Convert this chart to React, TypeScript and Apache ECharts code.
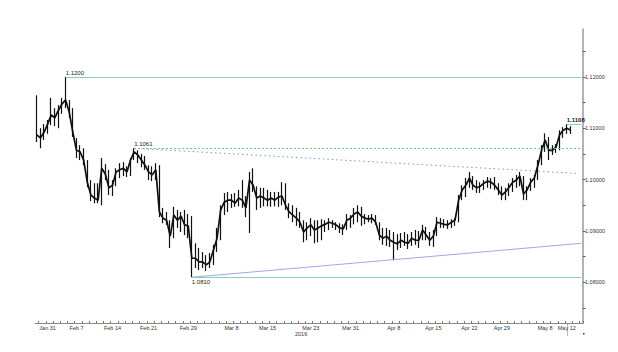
import React, { useEffect, useRef } from 'react';
import * as echarts from 'echarts';

// ~12-hour bars, EUR/USD, 31 Jan – 12 May 2016
const highs = [
  1.1164, 1.1100, 1.1108, 1.1116, 1.1159, 1.1139, 1.1145, 1.1159, 1.1200, 1.1155,
  1.1139, 1.1081, 1.1067, 1.1061, 1.1038, 1.0999, 1.0993, 1.0993, 1.1042, 1.1030,
  1.1019, 1.0999, 1.1022, 1.1032, 1.1034, 1.1026, 1.1042, 1.1061, 1.1057, 1.1050,
  1.1046, 1.1028, 1.1026, 1.1032, 1.1028, 1.0945, 1.0937, 1.0921, 1.0947, 1.0941,
  1.0937, 1.0941, 1.0933, 1.0929, 1.0876, 1.0867, 1.0859, 1.0853, 1.0857, 1.0873,
  1.0906, 1.0950, 1.0974, 1.0976, 1.0972, 1.0974, 1.0980, 1.0999, 1.0968, 1.1015,
  1.1022, 1.0987, 1.0984, 1.0984, 1.0980, 1.0976, 1.0976, 1.0976, 1.0995, 1.0993,
  1.0954, 1.0950, 1.0945, 1.0937, 1.0921, 1.0917, 1.0925, 1.0921, 1.0921, 1.0923,
  1.0921, 1.0925, 1.0921, 1.0917, 1.0915, 1.0913, 1.0933, 1.0931, 1.0945, 1.0950,
  1.0947, 1.0933, 1.0931, 1.0933, 1.0931, 1.0917, 1.0906, 1.0906, 1.0902, 1.0898,
  1.0894, 1.0896, 1.0898, 1.0894, 1.0898, 1.0902, 1.0900, 1.0912, 1.0908, 1.0898,
  1.0902, 1.0927, 1.0925, 1.0923, 1.0921, 1.0923, 1.0925, 1.0970, 1.0989, 1.1003,
  1.1015, 1.1007, 1.0999, 1.0995, 1.0999, 1.1005, 1.1003, 1.1005, 1.0993, 1.0987,
  1.0984, 1.0993, 1.1003, 1.1009, 1.1015, 1.1007, 1.0987, 1.1003, 1.1009, 1.1038,
  1.1067, 1.1090, 1.1083, 1.1067, 1.1069, 1.1096, 1.1102, 1.1108, 1.1104,
];
const lows = [
  1.1073, 1.1061, 1.1077, 1.1089, 1.1106, 1.1104, 1.1100, 1.1128, 1.1139, 1.1120,
  1.1083, 1.1042, 1.1038, 1.1028, 1.0985, 1.0958, 1.0954, 1.0954, 1.0950, 1.0999,
  1.0970, 1.0968, 1.0987, 1.1003, 1.1007, 1.1005, 1.1007, 1.1038, 1.1032, 1.1024,
  1.1019, 1.0999, 1.0997, 1.0999, 1.0927, 1.0915, 1.0912, 1.0867, 1.0886, 1.0906,
  1.0898, 1.0892, 1.0886, 1.0810, 1.0828, 1.0824, 1.0828, 1.0822, 1.0828, 1.0834,
  1.0859, 1.0882, 1.0931, 1.0937, 1.0945, 1.0947, 1.0948, 1.0945, 1.0927, 1.0896,
  1.0976, 1.0941, 1.0945, 1.0948, 1.0948, 1.0947, 1.0948, 1.0947, 1.0950, 1.0941,
  1.0925, 1.0917, 1.0910, 1.0906, 1.0878, 1.0882, 1.0890, 1.0876, 1.0878, 1.0882,
  1.0898, 1.0902, 1.0906, 1.0902, 1.0896, 1.0892, 1.0902, 1.0906, 1.0913, 1.0917,
  1.0910, 1.0913, 1.0917, 1.0915, 1.0912, 1.0882, 1.0873, 1.0871, 1.0869, 1.0843,
  1.0863, 1.0867, 1.0871, 1.0865, 1.0871, 1.0873, 1.0867, 1.0882, 1.0882, 1.0871,
  1.0869, 1.0890, 1.0906, 1.0906, 1.0904, 1.0906, 1.0910, 1.0917, 1.0960, 1.0966,
  1.0984, 1.0980, 1.0974, 1.0974, 1.0980, 1.0984, 1.0982, 1.0980, 1.0970, 1.0960,
  1.0960, 1.0968, 1.0976, 1.0984, 1.0987, 1.0960, 1.0960, 1.0978, 1.0984, 1.0999,
  1.1028, 1.1054, 1.1038, 1.1048, 1.1052, 1.1057, 1.1081, 1.1089, 1.1089,
];
const closes = [
  1.1087, 1.1081, 1.1092, 1.1108, 1.1126, 1.1120, 1.1135, 1.1147, 1.1155, 1.1131,
  1.1092, 1.1057, 1.1054, 1.1038, 1.0995, 1.0970, 1.0964, 1.0960, 1.1022, 1.1011,
  1.0984, 1.0989, 1.1015, 1.1019, 1.1022, 1.1015, 1.1038, 1.1054, 1.1048, 1.1038,
  1.1028, 1.1015, 1.1009, 1.1019, 1.0937, 1.0925, 1.0921, 1.0890, 1.0931, 1.0921,
  1.0929, 1.0912, 1.0910, 1.0847, 1.0847, 1.0840, 1.0840, 1.0834, 1.0840, 1.0863,
  1.0886, 1.0941, 1.0956, 1.0960, 1.0960, 1.0954, 1.0964, 1.0960, 1.0945, 1.0999,
  1.0989, 1.0964, 1.0968, 1.0964, 1.0960, 1.0964, 1.0960, 1.0966, 1.0968, 1.0950,
  1.0937, 1.0931, 1.0925, 1.0917, 1.0898, 1.0906, 1.0912, 1.0902, 1.0906, 1.0910,
  1.0913, 1.0917, 1.0915, 1.0912, 1.0906, 1.0904, 1.0921, 1.0925, 1.0933, 1.0937,
  1.0929, 1.0925, 1.0923, 1.0925, 1.0917, 1.0892, 1.0886, 1.0890, 1.0882, 1.0878,
  1.0875, 1.0882, 1.0878, 1.0876, 1.0886, 1.0882, 1.0882, 1.0902, 1.0892, 1.0882,
  1.0890, 1.0917, 1.0915, 1.0913, 1.0912, 1.0917, 1.0921, 1.0960, 1.0980, 1.0989,
  1.1003, 1.0989, 1.0984, 1.0987, 1.0993, 1.0997, 1.0995, 1.0989, 1.0980, 1.0970,
  1.0976, 1.0985, 1.0995, 1.0999, 1.1007, 1.0972, 1.0980, 1.0995, 1.1003, 1.1028,
  1.1057, 1.1077, 1.1057, 1.1057, 1.1063, 1.1087, 1.1096, 1.1100, 1.10965,
];
const firstOpen = 1.1080;

const totalSlots = 152;
const tickLabels = ['Jan 31', 'Feb 7', 'Feb 14', 'Feb 21', 'Feb 29', 'Mar 8', 'Mar 15', 'Mar 23',
  'Mar 31', 'Apr 8', 'Apr 15', 'Apr 22', 'Apr 29', 'May 8', 'May 12'];
const tickIndex = [3, 11, 21, 31, 42, 54, 64, 76, 87, 99, 110, 120, 129, 141, 147];
const yearLabel = '2016';

const yLabelValues = [1.08, 1.09, 1.10, 1.11, 1.12];
const yTickValues = [1.075, 1.08, 1.085, 1.09, 1.095, 1.10, 1.105, 1.11, 1.115, 1.12, 1.125];
const yMin = 1.0721;
const yMax = 1.1293;

// annotation levels
const highLevel = { idx: 8, value: 1.12, text: '1.1200' };
const lowLevel = { idx: 43, value: 1.081, text: '1.0810' };
const midLevel = { idx: 27, value: 1.1061, text: '1.1061' };
const recentHigh = { idx: 147, value: 1.1108, text: '1.1108' };
const resistanceEnd = 1.1012;
const supportEnd = 1.0876;
const lastPrice = 1.10965;

export default function App() {
  const ref = useRef<HTMLDivElement>(null);
  useEffect(() => {
    if (!ref.current) return;
    const chart = echarts.init(ref.current, undefined, { renderer: 'svg' });
    const cats = Array.from({ length: totalSlots }, (_, i) => String(i));
    const data = closes.map((c, i) => [i === 0 ? firstOpen : closes[i - 1], c, lows[i], highs[i]]);
    const labelMap: Record<number, string> = {};
    tickIndex.forEach((ix, k) => (labelMap[ix] = tickLabels[k]));
    const endIdx = totalSlots - 1;
    const txt = { fontSize: 6, color: '#222', fontFamily: 'Liberation Sans' };
    const green = '#86d2b6';

    chart.setOption({
      animation: false,
      backgroundColor: '#fff',
      grid: { left: 35, right: 35, top: 29, bottom: 29, containLabel: false, outerBoundsMode: 'none' },
      xAxis: {
        type: 'category',
        data: cats,
        boundaryGap: true,
        axisLine: { lineStyle: { color: '#888', width: 1 } },
        axisTick: { show: true, inside: true, length: 2, interval: (i: number) => i % 2 === 1, lineStyle: { color: '#777' } },
        axisLabel: {
          interval: (i: number) => labelMap[i] !== undefined,
          formatter: (_v: string, i: number) => labelMap[i] || '',
          fontSize: 5.5, color: '#333', margin: 2, fontFamily: 'Liberation Sans',
        },
        splitLine: { show: false },
      },
      yAxis: {
        type: 'value',
        position: 'right',
        min: yMin,
        max: yMax,
        splitLine: { show: false },
        axisLine: { show: true, lineStyle: { color: '#9a9a9a', width: 1.5 } },
        axisTick: { show: true, length: 2.5, customValues: yTickValues, lineStyle: { color: '#555' } },
        axisLabel: {
          customValues: yLabelValues,
          formatter: (v: number) => v.toFixed(5),
          fontSize: 5.5, color: '#333', margin: 2, fontFamily: 'Liberation Sans',
        },
      },
      series: [
        {
          type: 'line',
          data: closes,
          symbol: 'none',
          lineStyle: { color: '#111', width: 1.7 },
          z: 3,
        },
        {
          type: 'candlestick',
          data,
          barWidth: 1,
          z: 2,
          itemStyle: { color: '#111', color0: '#111', borderColor: '#111', borderColor0: '#111', borderWidth: 1.2 },
          markLine: {
            symbol: ['none', 'none'],
            silent: true,
            animation: false,
            data: [
              [
                { coord: [highLevel.idx, highLevel.value], lineStyle: { color: green, type: 'solid', width: 1 },
                  label: { show: true, position: 'insideStartTop', formatter: highLevel.text, distance: [0, 1], ...txt } },
                { coord: [endIdx, highLevel.value] },
              ],
              [
                { coord: [lowLevel.idx, lowLevel.value], lineStyle: { color: green, type: 'solid', width: 1 },
                  label: { show: true, position: 'insideStartBottom', formatter: lowLevel.text, distance: [0, 2], ...txt } },
                { coord: [endIdx, lowLevel.value] },
              ],
              [
                { coord: [midLevel.idx, midLevel.value], lineStyle: { color: '#5fcc8f', type: [2, 2], width: 1 },
                  label: { show: true, position: 'insideStartTop', formatter: midLevel.text, distance: [0, 1], ...txt } },
                { coord: [endIdx, midLevel.value] },
              ],
              [
                { coord: [midLevel.idx, midLevel.value], lineStyle: { color: '#8a8ed8', type: [1.5, 3], width: 1 },
                  label: { show: false } },
                { coord: [endIdx - 1, resistanceEnd] },
              ],
              [
                { coord: [lowLevel.idx, lowLevel.value], lineStyle: { color: '#a3a7e3', type: 'solid', width: 1 },
                  label: { show: false } },
                { coord: [endIdx, supportEnd] },
              ],
              [
                { coord: [recentHigh.idx, recentHigh.value], lineStyle: { color: green, type: 'solid', width: 1 },
                  label: { show: true, position: 'insideStartTop', formatter: recentHigh.text, distance: [0, 1], ...txt, fontWeight: 'bold' } },
                { coord: [endIdx, recentHigh.value] },
              ],
              [
                { coord: [data.length - 1, lastPrice], lineStyle: { opacity: 0 },
                  label: { show: true, position: 'end', formatter: lastPrice.toFixed(5), distance: 1, offset: [0, 5],
                    backgroundColor: '#111', color: '#fff', padding: [1, 2], fontSize: 5.5, fontFamily: 'Liberation Sans' } },
                { coord: [endIdx, lastPrice] },
              ],
            ],
          },
        },
      ],
      graphic: [
        { type: 'text', left: 295, top: 331, style: { text: yearLabel, fontSize: 5.5, fill: '#333', fontFamily: 'Liberation Sans' } },
        { type: 'line', shape: { x1: 567.5, y1: 323, x2: 567.5, y2: 336 }, style: { stroke: '#bbb', lineWidth: 1 } },
        { type: 'rect', shape: { x: 583, y: 333, width: 1.5, height: 1.5 }, style: { fill: '#333' } },
      ],
    });
    return () => chart.dispose();
  }, []);
  return <div ref={ref} style={{ position: 'fixed', left: 0, top: 0, width: 618, height: 352 }} />;
}
